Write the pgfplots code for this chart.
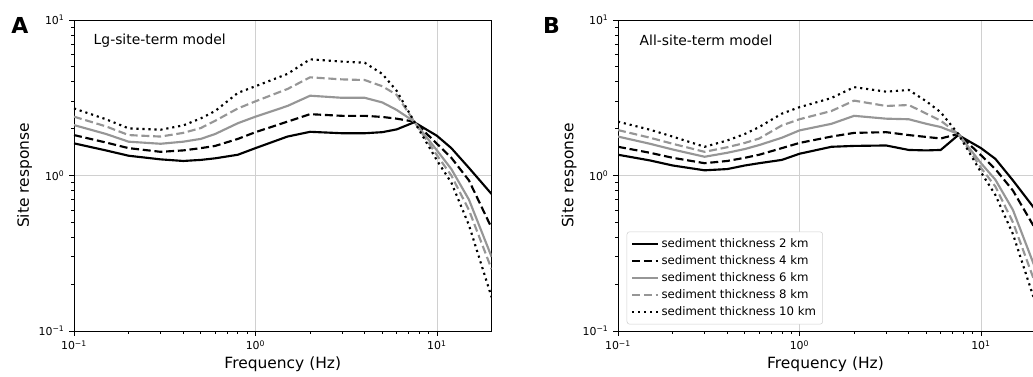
\documentclass[border=0pt]{standalone}
\usepackage{pgfplots}
\pgfplotsset{compat=1.18}
\usepackage{pgfplotstable}
\usepackage{fontspec}
\setmainfont{DejaVu Sans}
\definecolor{lgray}{RGB}{150,150,150}
\definecolor{gridc}{RGB}{208,208,208}

\pgfplotstableread{
f     s2    s4    s6    s8    s10
0.1   1.61  1.82  2.11  2.39  2.70
0.15  1.45  1.63  1.85  2.07  2.30
0.2   1.34  1.50  1.65  1.82  2.01
0.3   1.27  1.42  1.60  1.78  1.97
0.4   1.24  1.45  1.65  1.88  2.10
0.5   1.26  1.50  1.72  2.02  2.33
0.6   1.29  1.55  1.85  2.25  2.60
0.8   1.36  1.72  2.17  2.70  3.40
1     1.50  1.90  2.39  3.00  3.75
1.5   1.78  2.22  2.80  3.60  4.50
2     1.91  2.48  3.26  4.28  5.59
3     1.87  2.42  3.16  4.15  5.40
4     1.87  2.42  3.16  4.11  5.31
5     1.90  2.38  2.95  3.75  4.50
6     1.98  2.32  2.64  3.30  3.50
7.5   2.20  2.22  2.22  2.22  2.22
10    1.80  1.60  1.45  1.35  1.25
12    1.50  1.30  1.10  1.00  0.90
15    1.12  0.93  0.70  0.60  0.48
20    0.76  0.46  0.30  0.25  0.165
}\dataA

\pgfplotstableread{
f     s2    s4    s6    s8    s10
0.1   1.36  1.53  1.78  1.96  2.22
0.15  1.25  1.40  1.60  1.75  1.97
0.2   1.16  1.30  1.47  1.60  1.78
0.3   1.08  1.20  1.32  1.42  1.53
0.4   1.10  1.24  1.40  1.52  1.68
0.5   1.16  1.30  1.48  1.62  1.85
0.6   1.20  1.36  1.57  1.73  2.05
0.8   1.26  1.50  1.75  2.10  2.50
1     1.38  1.62  1.95  2.30  2.75
1.5   1.53  1.78  2.15  2.60  3.15
2     1.55  1.88  2.42  3.03  3.70
3     1.56  1.90  2.32  2.80  3.46
4     1.46  1.82  2.30  2.84  3.55
5     1.45  1.77  2.15  2.50  3.00
6     1.46  1.73  2.05  2.25  2.55
7.5   1.82  1.85  1.85  1.85  1.85
10    1.50  1.35  1.20  1.12  1.05
12    1.28  1.10  0.94  0.85  0.75
15    0.93  0.80  0.60  0.50  0.42
20    0.60  0.45  0.25  0.20  0.15
}\dataB

\tikzset{
  c2/.style={black, line width=1.6pt},
  c4/.style={black, line width=1.6pt, dash pattern=on 6pt off 2.8pt},
  c6/.style={lgray, line width=1.6pt},
  c8/.style={lgray, line width=1.6pt, dash pattern=on 6pt off 2.8pt},
  c10/.style={black, line width=1.6pt, dash pattern=on 1.6pt off 2.9pt},
}

\begin{document}
\begin{tikzpicture}
\useasboundingbox (0,0) rectangle (774.75pt,282pt);
\begin{axis}[at={(55.5pt,33.75pt)}, anchor=south west,
    xmode=log, ymode=log,
    scale only axis,
    width=313.2pt, height=233.25pt,
    xmin=0.1, xmax=20, ymin=0.1, ymax=10,
    xtick={0.1,1,10}, ytick={0.1,1,10},
    xticklabels={10\textsuperscript{−1},10\textsuperscript{0},10\textsuperscript{1}},
    yticklabels={10\textsuperscript{−1},10\textsuperscript{0},10\textsuperscript{1}},
    tick pos=left, tick align=outside,
    major tick length=3.6pt, minor tick length=2.1pt,
    every tick/.style={black, line width=0.6pt},
    xmajorgrids, ymajorgrids,
    major grid style={gridc, line width=0.7pt},
    axis line style={line width=0.6pt},
    ticklabel style={font=\fontsize{8.2}{10}\selectfont},
    xlabel={Frequency (Hz)}, ylabel={Site response},
    label style={font=\fontsize{11.6}{14}\selectfont},
    xlabel style={at={(axis description cs:0.5,-0.121)}, anchor=base},
    ylabel style={at={(axis description cs:-0.118,0.5)}, anchor=center}]
\addplot[c2] table[x=f,y=s2] {\dataA};
\addplot[c4] table[x=f,y=s4] {\dataA};
\addplot[c6] table[x=f,y=s6] {\dataA};
\addplot[c8] table[x=f,y=s8] {\dataA};
\addplot[c10] table[x=f,y=s10] {\dataA};
\node[anchor=west, font=\fontsize{10.4}{12}\selectfont] at (axis description cs:0.036,0.935) {Lg-site-term model};
\end{axis}
\begin{axis}[at={(463.5pt,33.75pt)}, anchor=south west,
    xmode=log, ymode=log,
    scale only axis,
    width=311.25pt, height=233.25pt,
    xmin=0.1, xmax=19.35, ymin=0.1, ymax=10,
    axis y line*=left,
    xtick={0.1,1,10}, ytick={0.1,1,10},
    xticklabels={10\textsuperscript{−1},10\textsuperscript{0},10\textsuperscript{1}},
    yticklabels={10\textsuperscript{−1},10\textsuperscript{0},10\textsuperscript{1}},
    tick pos=left, tick align=outside,
    major tick length=3.6pt, minor tick length=2.1pt,
    every tick/.style={black, line width=0.6pt},
    xmajorgrids, ymajorgrids,
    major grid style={gridc, line width=0.7pt},
    axis line style={line width=0.6pt},
    ticklabel style={font=\fontsize{8.2}{10}\selectfont},
    xlabel={Frequency (Hz)}, ylabel={Site response},
    label style={font=\fontsize{11.6}{14}\selectfont},
    xlabel style={at={(axis description cs:0.5,-0.121)}, anchor=base},
    ylabel style={at={(axis description cs:-0.118,0.5)}, anchor=center},
    legend image code/.code={\draw[#1] (0pt,0pt) -- (19.3pt,0pt);},
    legend style={at={(axis description cs:0.021,0.021)}, anchor=south west,
      draw=gridc, rounded corners=2pt, fill=white, font=\fontsize{8.8}{10}\selectfont,
      row sep=0.6pt, inner sep=3pt},
    legend cell align=left]
\addplot[c2] table[x=f,y=s2] {\dataB};
\addlegendentry{sediment thickness 2 km}
\addplot[c4] table[x=f,y=s4] {\dataB};
\addlegendentry{sediment thickness 4 km}
\addplot[c6] table[x=f,y=s6] {\dataB};
\addlegendentry{sediment thickness 6 km}
\addplot[c8] table[x=f,y=s8] {\dataB};
\addlegendentry{sediment thickness 8 km}
\addplot[c10] table[x=f,y=s10] {\dataB};
\addlegendentry{sediment thickness 10 km}
\node[anchor=west, font=\fontsize{10.4}{12}\selectfont] at (axis description cs:0.041,0.935) {All-site-term model};
\end{axis}
\node[font=\bfseries\fontsize{16.5}{18}\selectfont] at (15pt,263pt) {A};
\node[font=\bfseries\fontsize{16.5}{18}\selectfont] at (413.6pt,263pt) {B};
\end{tikzpicture}
\end{document}
